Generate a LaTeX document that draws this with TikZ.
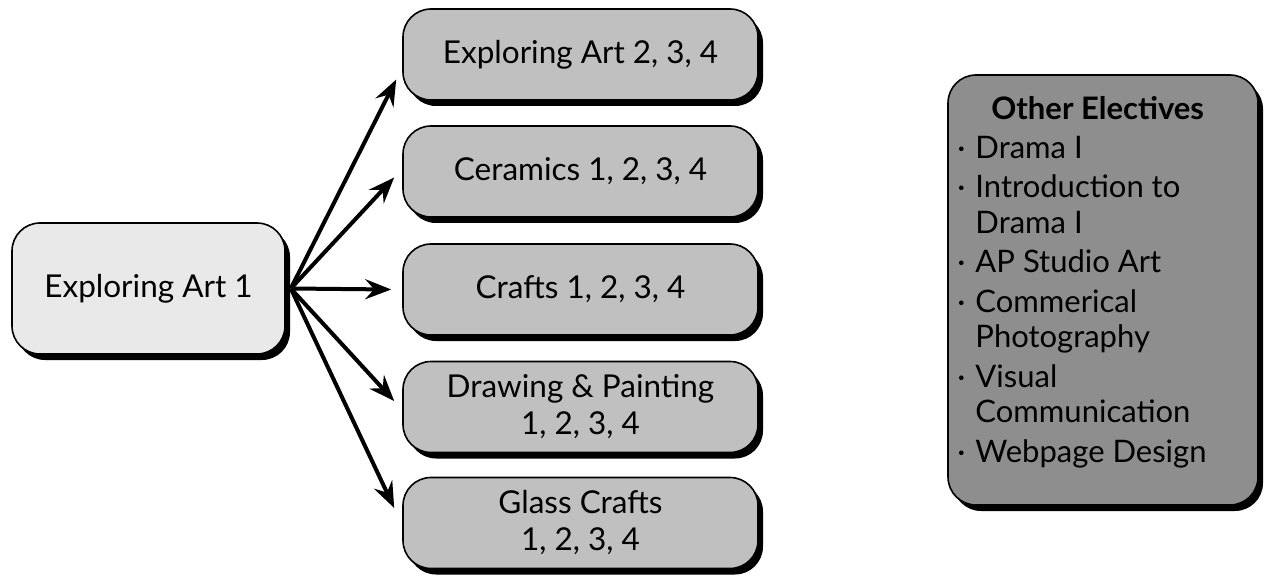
\documentclass[tikz,border=0pt]{standalone}
\usepackage{fontspec}
\setmainfont{Lato}
\usetikzlibrary{arrows.meta,calc,shadows}
\definecolor{lightbox}{HTML}{E9E9E9}
\definecolor{midbox}{HTML}{C0C0C0}
\definecolor{darkbox}{HTML}{8E8E8E}
\begin{document}
\begin{tikzpicture}[x=1pt,y=-1pt,
  shbox/.style={draw=black, line width=1.6pt, rounded corners=28pt,
    drop shadow={shadow xshift=5pt, shadow yshift=-6pt, opacity=1, fill=black},
    font=\fontsize{31.5}{37}\selectfont, align=center, inner sep=0pt},
  course/.style={shbox, fill=midbox, minimum width=355pt, minimum height=91pt},
  link/.style={line width=4pt, -{Stealth[length=26pt,width=20pt,inset=9pt]}}
]
\useasboundingbox (0,0) rectangle (1265,577);
\node[shbox, fill=lightbox, minimum width=273pt, minimum height=131pt] (e1) at (148.5,288.5) {Exploring Art 1};
\node[course] (b1) at (580.5,54.5) {Exploring Art 2, 3, 4};
\node[course] (b2) at (580.5,171.5) {Ceramics 1, 2, 3, 4};
\node[course] (b3) at (580.5,289.5) {Crafts 1, 2, 3, 4};
\node[course] (b4) at (580.5,407) {Drawing \& Painting\\1, 2, 3, 4};
\node[course] (b5) at (580.5,523) {Glass Crafts\\1, 2, 3, 4};
\node[shbox, fill=darkbox, minimum width=310pt, minimum height=430pt] (oe) at (1103,290) {};
\node[anchor=north west, inner sep=0pt, font=\fontsize{31}{35.5}\selectfont, align=left] (oet) at ($(oe.north west)+(10,20)$)
{\begin{tabular}{@{}l@{\hspace{10pt}}l@{}}
\multicolumn{2}{@{}l@{}}{\hspace{34pt}\textbf{Other Electives}}\\[3.5pt]
·&Drama I\\[4pt]
·&Introduction to\\
 &Drama I\\[4pt]
·&AP Studio Art\\[4pt]
·&Commerical\\
 &Photography\\[4pt]
·&Visual\\
 &Communication\\[4pt]
·&Webpage Design
\end{tabular}};
\coordinate (src) at ($(e1.east)+(5,0)$);
\draw[link] (src) -- ($(b1.west)+(-6,25)$);
\draw[link] (src) -- ($(b2.west)+(-8,6)$);
\draw[link] (src) -- ($(b3.west)+(-11,0)$);
\draw[link] (src) -- ($(b4.west)+(-8,-6)$);
\draw[link] (src) -- ($(b5.west)+(-8,-15)$);
\end{tikzpicture}
\end{document}
